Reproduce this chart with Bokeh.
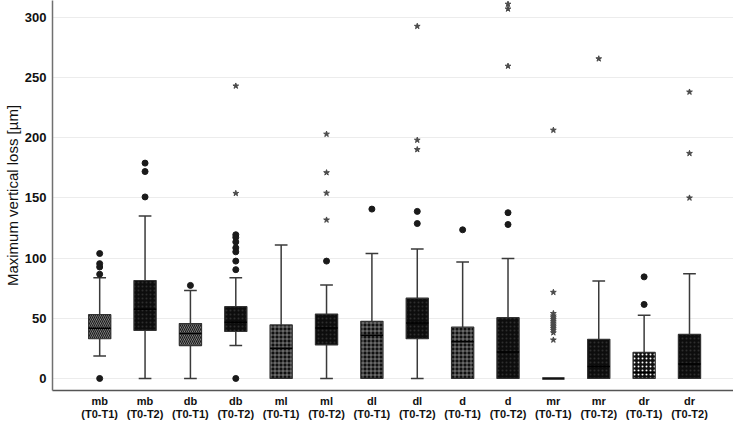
from bokeh.plotting import figure
from bokeh.models import FixedTicker, Range1d
from bokeh.embed import file_html
from bokeh.resources import INLINE

# ---------------- data ----------------
categories = ["mb\n(T0-T1)", "mb\n(T0-T2)", "db\n(T0-T1)", "db\n(T0-T2)",
              "ml\n(T0-T1)", "ml\n(T0-T2)", "dl\n(T0-T1)", "dl\n(T0-T2)",
              "d\n(T0-T1)", "d\n(T0-T2)", "mr\n(T0-T1)", "mr\n(T0-T2)",
              "dr\n(T0-T1)", "dr\n(T0-T2)"]
q1 = [33, 39.9, 27.3, 39, 0, 27.9, 0, 33, 0, 0, 0, 0, 0, 0]
median = [41.8, 57.4, 37.4, 46.7, 25, 42, 35.8, 46, 30.6, 22, 0, 10, 5, 12]
q3 = [53, 81.4, 45.6, 59.6, 44.5, 53.5, 47.5, 66.7, 42.6, 50.5, 0, 32.5, 21.6, 36.6]
whisker_low = [18.6, 0, 0, 27.3, 0, 0, 0, 0, 0, 0, 0, 0, 0, 0]
whisker_high = [83.6, 135, 73, 83.6, 110.9, 77.6, 103.8, 107.6, 96.7, 99.7, 0, 80.9, 52.5, 86.9]

circle_cat = [0, 0, 0, 0, 0, 1, 1, 1, 2, 3, 3, 3, 3, 3, 3, 3, 3, 5, 6, 7, 7, 8, 9, 9, 12, 12]
circle_val = [103.8, 95.4, 92.6, 86.6, 0, 178.9, 171.9, 150.8, 77.3,
              119.4, 117.2, 113.4, 108.5, 105.2, 97.5, 90.4, 0,
              97.5, 140.7, 138.8, 128.7, 123.5, 137.7, 127.9, 84.4, 61.5]

star_cat = [3, 3, 5, 5, 5, 5, 7, 7, 7, 9, 9, 9,
            10, 10, 10, 10, 10, 10, 10, 10, 10, 10, 10, 10, 10, 10,
            11, 13, 13, 13]
star_val = [153.8, 243, 203, 171, 154, 131.7, 292.6, 198, 190.2, 311, 307, 259.5,
            206.3, 71.6, 54, 52, 50.5, 49, 47.5, 46, 44.5, 43, 41.5, 40, 38, 32,
            265.6, 238, 187, 150]

y_ticks = [0, 50, 100, 150, 200, 250, 300]

# ---------------- styling ----------------
BOX_W = 0.49
CAP_W = 0.28
LINE = "#3a3a3a"

p = figure(width=733, height=422, output_backend="svg", toolbar_location=None,
           x_range=Range1d(-1.04, 13.97), y_range=Range1d(-10, 314),
           min_border_top=0, min_border_right=0, min_border_left=0, min_border_bottom=0)
p.outline_line_color = None
p.background_fill_color = "white"
p.border_fill_color = "white"

xs = list(range(len(categories)))

# whiskers
up_x = [i for i in xs if whisker_high[i] > q3[i]]
p.segment(x0=up_x, y0=[q3[i] for i in up_x], x1=up_x, y1=[whisker_high[i] for i in up_x],
          line_color=LINE, line_width=1.5)
p.segment(x0=[i - CAP_W / 2 for i in up_x], y0=[whisker_high[i] for i in up_x],
          x1=[i + CAP_W / 2 for i in up_x], y1=[whisker_high[i] for i in up_x],
          line_color=LINE, line_width=1.5)
lo_x = [i for i in xs if whisker_low[i] < q1[i]]
p.segment(x0=lo_x, y0=[q1[i] for i in lo_x], x1=lo_x, y1=[whisker_low[i] for i in lo_x],
          line_color=LINE, line_width=1.5)
p.segment(x0=[i - CAP_W / 2 for i in lo_x], y0=[whisker_low[i] for i in lo_x],
          x1=[i + CAP_W / 2 for i in lo_x], y1=[whisker_low[i] for i in lo_x],
          line_color=LINE, line_width=1.5)

# boxes by style group
groups = [
    ([0, 2], dict(fill_color="#9a9a9a", hatch_pattern="\\", hatch_color="#1a1a1a",
                  hatch_scale=4, hatch_weight=1.2)),
    ([4, 6, 8], dict(fill_color="#111111", hatch_pattern="+", hatch_color="#d4d4d4",
                     hatch_scale=4, hatch_weight=0.5)),
    ([12], dict(fill_color="#111111", hatch_pattern=".", hatch_color="#ffffff",
                hatch_scale=4, hatch_weight=2)),
    ([1, 3, 5, 7, 9, 11, 13], dict(fill_color="#0d0d0d", hatch_pattern=".",
                                   hatch_color="#2e2e2e", hatch_scale=4, hatch_weight=1.5)),
]
for idx, style in groups:
    p.vbar(x=idx, width=BOX_W, top=[q3[i] for i in idx], bottom=[q1[i] for i in idx],
           line_color="#333333", line_width=1.2, **style)

# medians
med_x = [i for i in xs if q3[i] > q1[i]]
p.segment(x0=[i - BOX_W / 2 for i in med_x], y0=[median[i] for i in med_x],
          x1=[i + BOX_W / 2 for i in med_x], y1=[median[i] for i in med_x],
          line_color="#000000", line_width=1.5)
# flat boxes (all quartiles equal)
flat_x = [i for i in xs if q3[i] == q1[i]]
p.segment(x0=[i - BOX_W / 2 for i in flat_x], y0=[q1[i] for i in flat_x],
          x1=[i + BOX_W / 2 for i in flat_x], y1=[q1[i] for i in flat_x],
          line_color="#111111", line_width=2.5)

# outliers
p.scatter(x=circle_cat, y=circle_val, marker="circle", size=6,
          fill_color="#1a1a1a", line_color="#1a1a1a")
p.scatter(x=star_cat, y=star_val, marker="star", size=6,
          fill_color="#4a4a4a", line_color="#4a4a4a")

# axes
p.xgrid.grid_line_color = None
p.ygrid.grid_line_color = "#ececec"
p.ygrid.ticker = FixedTicker(ticks=y_ticks)

for ax in (p.xaxis[0], p.yaxis[0]):
    ax.major_tick_line_color = None
    ax.minor_tick_line_color = None
    ax.major_tick_out = 0
    ax.major_tick_in = 0
    ax.minor_tick_out = 0
    ax.minor_tick_in = 0

p.yaxis.ticker = FixedTicker(ticks=y_ticks)
p.yaxis.axis_label = "Maximum vertical loss [µm]"
p.yaxis.axis_label_text_font = "Liberation Sans"
p.yaxis.axis_label_text_font_size = "15px"
p.yaxis.axis_label_text_font_style = "normal"
p.yaxis.axis_label_text_color = "#111111"
p.yaxis.axis_label_standoff = 1
p.yaxis.major_label_text_font = "Liberation Sans"
p.yaxis.major_label_text_font_size = "13px"
p.yaxis.major_label_text_font_style = "bold"
p.yaxis.major_label_text_color = "#111111"
p.yaxis.major_label_standoff = 6
p.yaxis.axis_line_color = "#707070"
p.yaxis.axis_line_width = 1.5

p.xaxis.axis_label = None
p.xaxis.axis_label_standoff = 0
p.xaxis.ticker = FixedTicker(ticks=xs)
p.xaxis.major_label_overrides = {i: categories[i] for i in xs}
p.xaxis.major_label_text_font = "Liberation Sans"
p.xaxis.major_label_text_font_size = "11px"
p.xaxis.major_label_text_font_style = "bold"
p.xaxis.major_label_text_color = "#111111"
p.xaxis.major_label_text_line_height = 1.1
p.xaxis.major_label_standoff = 4
p.xaxis.axis_line_color = "#555555"
p.xaxis.axis_line_width = 1.5

open("out.html", "w").write(file_html(p, INLINE))
